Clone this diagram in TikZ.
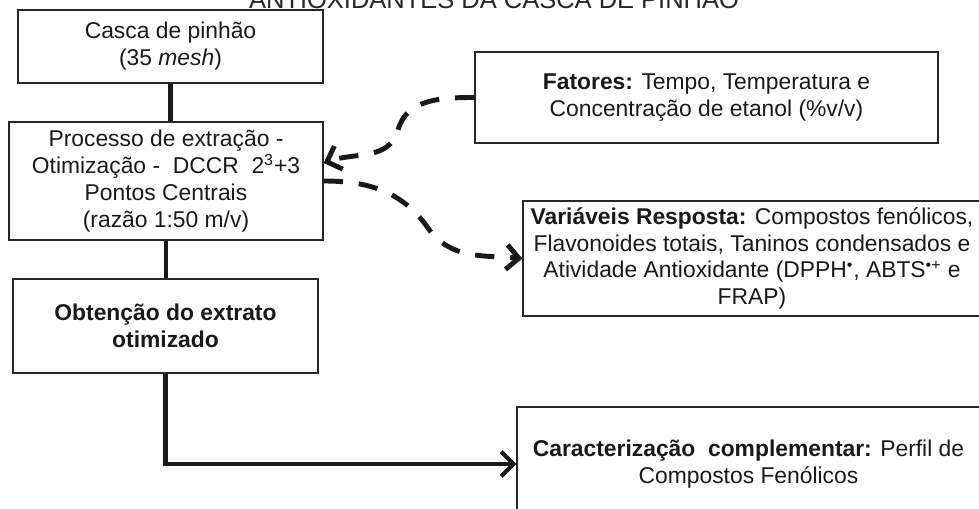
\documentclass[tikz,border=0pt]{standalone}
\usepackage{fontspec}
\setmainfont{Liberation Sans}
\usetikzlibrary{arrows.meta}
\tikzset{every node/.append style={font=\fontsize{13}{15.3}\selectfont}}

\begin{document}
\begin{tikzpicture}[>={Straight Barb[length=7pt,width=14pt]}, x=1cm, y=1cm,
    box/.style={draw=black!85, line width=0.8pt, align=center, inner sep=2pt, text=black!90},
    link/.style={line width=2.3pt, black!90},
    dlink/.style={->, line width=2.8pt, black!90, dash pattern=on 11pt off 9pt}]
    \useasboundingbox (0,0) rectangle (19.58,-10.16);
    \clip (0,0) rectangle (19.58,-10.16);
    \node[anchor=base, text=black!85, font=\fontsize{14.5}{17}\selectfont] (title) at (9.88,-0.16) {ANTIOXIDANTES DA CASCA DE PINHÃO};
    % main column
    \node[box, minimum width=6.10cm, minimum height=1.46cm] (casca) at (3.41,-0.93) {Casca de pinhão\\(35 \textit{mesh})};
    \node[box, minimum width=6.28cm, minimum height=2.36cm] (processo) at (3.32,-3.62) {Processo de extração -\\Otimização -\ \ DCCR\ \ 2\textsuperscript{3}+3\\Pontos Centrais\\(razão 1:50 m/v)};
    \node[box, minimum width=6.10cm, minimum height=1.88cm, font=\fontsize{13}{15.3}\selectfont\bfseries] (obtencao) at (3.31,-6.52) {Obtenção do extrato\\otimizado};
    % side boxes
    \node[box, minimum width=9.26cm, minimum height=1.82cm] (fatores) at (14.13,-1.95) {\textbf{Fatores:} Tempo, Temperatura e\\Concentração de etanol (\%v/v)};
    \node[box, minimum width=9.16cm, minimum height=2.30cm] (variaveis) at (15.04,-5.17) {\textbf{Variáveis Resposta:} Compostos fenólicos,\\Flavonoides totais, Taninos condensados e\\Atividade Antioxidante (DPPH\textsuperscript{\textbullet}, ABTS\textsuperscript{\textbullet+} e\\FRAP)};
    \node[box, minimum width=9.26cm, minimum height=2.28cm] (caract) at (14.97,-9.28) {\textbf{Caracterização\ \ complementar:} Perfil de\\Compostos Fenólicos};
    % solid links
    \foreach \a/\b in {casca/processo, processo/obtencao} \draw[link] (\a.south) -- (\a.south |- \b.north);
    \draw[link, ->] (obtencao.south) |- (caract.west);
    % dashed links
    \coordinate (bendA) at (7.96,-2.6);
    \coordinate (bendB) at (8.56,-4.56);
    \draw[dlink] (fatores.west) to[out=180,in=75] (bendA) to[out=-105,in=20] ([yshift=0.36cm]processo.east);
    \draw[dlink] (processo.east) to[out=0,in=125] (bendB) to[out=-55,in=175] (variaveis.west);
\end{tikzpicture}
\end{document}
